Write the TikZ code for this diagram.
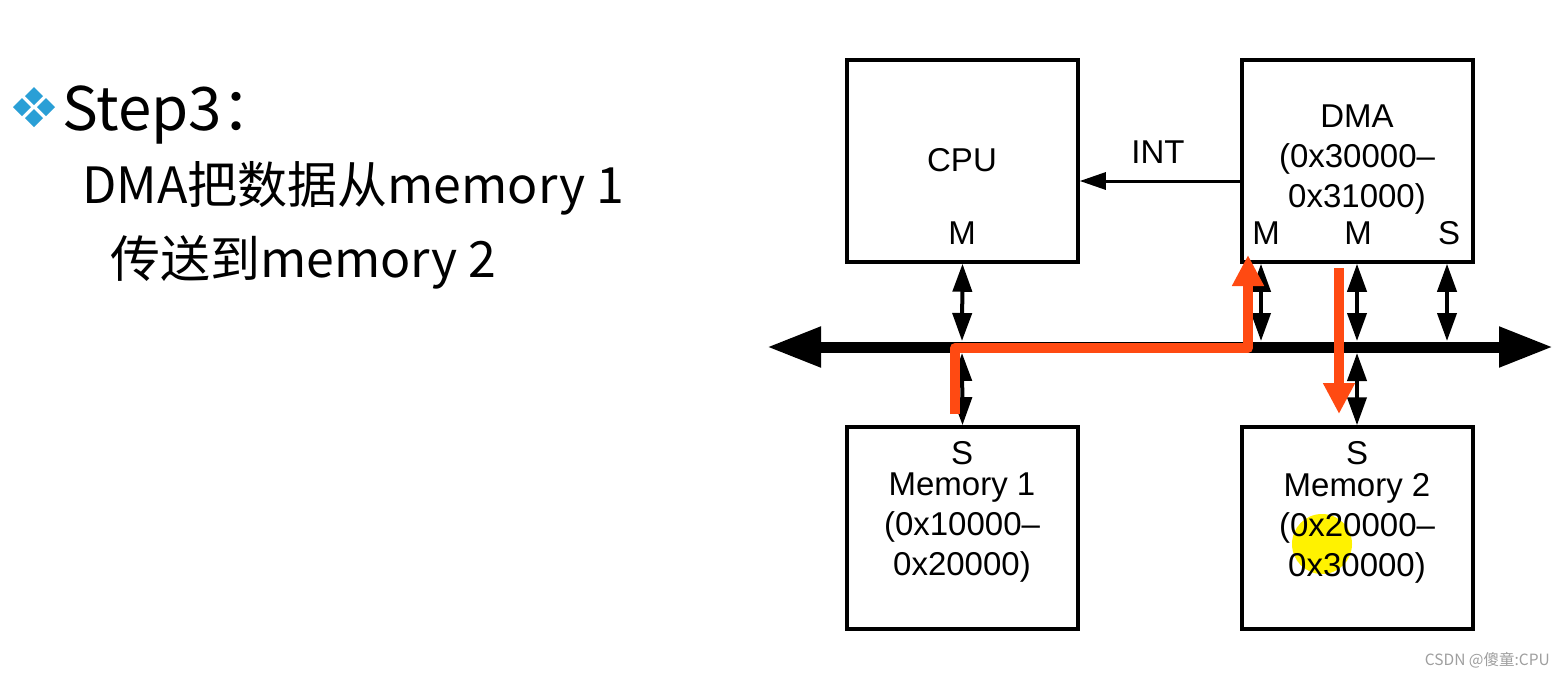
\documentclass[tikz,border=0pt]{standalone}
\usepackage{fontspec}
\setmainfont{Liberation Sans}
\newfontfamily\cjk{Noto Sans CJK SC}
\usetikzlibrary{arrows.meta}
\definecolor{bulletblue}{HTML}{2A9FD6}
\definecolor{flow}{HTML}{FF4A12}
\definecolor{hilite}{HTML}{FFF200}
\tikzset{
  box/.style={draw, line width=3.5pt, minimum width=231pt, minimum height=202pt, inner sep=0pt},
  lbl/.style={font=\fontsize{33}{40}\selectfont, inner sep=0pt, align=center},
  conn/.style={line width=4pt, {Triangle[length=28pt,width=19pt]}-{Triangle[length=28pt,width=19pt]}},
  intarrow/.style={line width=3pt, -{Triangle[length=26pt,width=17pt]}},
  busline/.style={line width=11pt, {Triangle[length=54pt,width=38pt]}-{Triangle[length=54pt,width=38pt]}},
  flowline/.style={draw=flow, line width=10pt, line join=round, -{Triangle[length=31pt,width=30pt]}},
  bigtext/.style={font=\cjk, inner sep=0pt, anchor=base west},
  dia/.style={fill=bulletblue},
}
\begin{document}
\begin{tikzpicture}[x=1pt,y=-1pt]
\useasboundingbox (0,0) rectangle (1564,678);
\fill[white] (0,0) rectangle (1564,678);

% bullet
\foreach \cx/\cy in {34/96, 34/118, 22/107, 46/107}
  \fill[dia] (\cx-9,\cy) -- (\cx,\cy-9) -- (\cx+9,\cy) -- (\cx,\cy+9) -- cycle;

% left text
\node[bigtext, font=\cjk\fontsize{60}{70}\selectfont] (step) at (62,130) {Step3：};
\node[bigtext, font=\cjk\fontsize{50}{60}\selectfont] (line1) at (82,203) {DMA把数据从memory 1};
\node[bigtext, font=\cjk\fontsize{50}{60}\selectfont] (line2) at (110,277) {传送到memory 2};

% boxes
\node[box] (cpu) at (962.5,161) {};
\node[box] (dma) at (1357.5,161) {};
\node[box] (mem1) at (962.5,528) {};
\node[box] (mem2) at (1357.5,528) {};

% highlight
\fill[hilite] (1322,544) circle (30);

% labels
\node[lbl] (cpulbl) at (962,160) {CPU};
\node[lbl] (cpum) at (962,233) {M};
\node[lbl] (dmalbl) at (1357,160) {DMA\\(0x30000–\\0x31000)};
\node[lbl] (dmam1) at (1266,233) {M};
\node[lbl] (dmam2) at (1358,233) {M};
\node[lbl] (dmas) at (1449,233) {S};
\node[lbl] (mem1s) at (962,453) {S};
\node[lbl] (mem1lbl) at (962,528) {Memory 1\\(0x10000–\\0x20000)};
\node[lbl] (mem2s) at (1357,453) {S};
\node[lbl] (mem2lbl) at (1357,528) {Memory 2\\(0x20000–\\0x30000)};
\node[lbl] (intlbl) at (1158,152) {INT};

% bus
\coordinate (busL) at (767,347);
\coordinate (busR) at (1553,347);
\draw[busline] (busL) -- (busR);

% connectors
\coordinate (cpuBus) at (962,341);
\coordinate (m1Bus) at (962,353);
\coordinate (dm1Bus) at (1261,341);
\coordinate (dm2Bus) at (1357,341);
\coordinate (m2Bus) at (1357,353);
\coordinate (dsBus) at (1447,341);
\draw[conn] (cpu.south) -- (cpuBus);
\draw[conn] (m1Bus) -- (mem1.north);
\draw[conn] (dma.south -| dm1Bus) -- (dm1Bus);
\draw[conn] (dma.south -| dm2Bus) -- (dm2Bus);
\draw[conn] (m2Bus) -- (mem2.north -| m2Bus);
\draw[conn] (dma.south -| dsBus) -- (dsBus);

% INT
\draw[intarrow] (dma.west |- 0,181) -- (cpu.east |- 0,181);

% data flow
\coordinate (f1s) at (955,414);
\coordinate (f1a) at (955,348);
\coordinate (f1b) at (1248,348);
\coordinate (f1e) at (1248,255);
\draw[flowline] (f1s) -- (f1a) -- (f1b) -- (f1e);
\coordinate (f2s) at (1339,268);
\coordinate (f2e) at (1339,414);
\draw[flowline] (f2s) -- (f2e);

% watermark
\node[font=\cjk\fontsize{15.5}{18}\selectfont, text=gray!75, anchor=east, inner sep=0pt] (wm) at (1550,660) {CSDN @傻童:CPU};
\end{tikzpicture}
\end{document}
